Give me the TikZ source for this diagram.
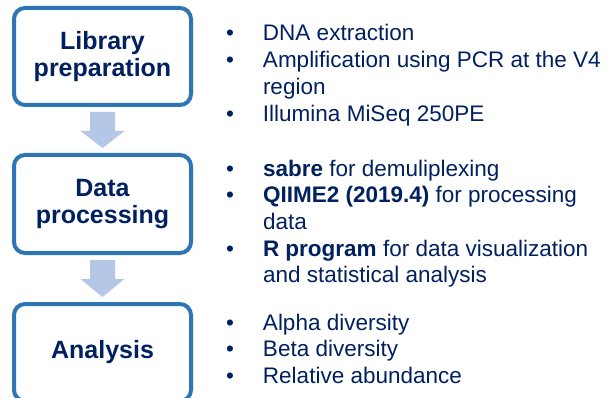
\documentclass[tikz,border=0pt]{standalone}
\usepackage{fontspec}
\setmainfont{Liberation Sans}
\usetikzlibrary{calc}
\definecolor{navy}{HTML}{002060}
\definecolor{boxblue}{HTML}{2E75B6}
\definecolor{arrowfill}{HTML}{B4C7E7}
\tikzset{
  stagebox/.style={draw=boxblue, line width=4pt, rounded corners=11pt, fill=white,
    minimum width=177pt, inner sep=0pt, outer sep=0pt, align=center, text=navy,
    font=\bfseries\fontsize{25}{27}\selectfont},
  bullets/.style={anchor=base west, inner sep=0pt, outer sep=0pt, text=navy,
    font=\fontsize{22.5}{26.7}\selectfont},
  blockarrow/.style={fill=arrowfill}
}
\newcommand{\bul}{\textbullet}
\begin{document}
\begin{tikzpicture}[x=1pt,y=-1pt]
\useasboundingbox (0,0) rectangle (607,398);
\clip (0,0) rectangle (607,398);
\fill[white] (0,0) rectangle (607,398);

\node[stagebox, minimum height=97pt] (lib) at (102.5,56.5) {Library\\preparation};
\node[stagebox, minimum height=98pt] (proc) at (102.5,204) {Data\\processing};
\node[stagebox, minimum height=97pt] (ana) at (102.5,352.5) {Analysis};

\foreach \a/\b in {lib/proc,proc/ana}{
  \fill[blockarrow] ($(\a.south)+(-12.5,7)$) -- ($(\a.south)+(12.5,7)$)
    -- ($(\a.south)+(12.5,26)$) -- ($(\a.south)+(22,26)$)
    -- ($(\b.north)+(0,-7)$)
    -- ($(\a.south)+(-22,26)$) -- ($(\a.south)+(-12.5,26)$) -- cycle;
}

\node[bullets] (t1) at (226,41) {\begin{tabular}[t]{@{}p{37pt}@{}l@{}}
\bul & DNA extraction\\
\bul & Amplification using PCR at the V4\\
 & region\\
\bul & Illumina MiSeq 250PE
\end{tabular}};

\node[bullets] (t2) at (226,176) {\begin{tabular}[t]{@{}p{37pt}@{}l@{}}
\bul & \textbf{sabre} for demuliplexing\\
\bul & \textbf{QIIME2 (2019.4)} for processing\\
 & data\\
\bul & \textbf{R program} for data visualization\\
 & and statistical analysis
\end{tabular}};

\node[bullets] (t3) at (226,330) {\begin{tabular}[t]{@{}p{37pt}@{}l@{}}
\bul & Alpha diversity\\
\bul & Beta diversity\\
\bul & Relative abundance
\end{tabular}};
\end{tikzpicture}
\end{document}
